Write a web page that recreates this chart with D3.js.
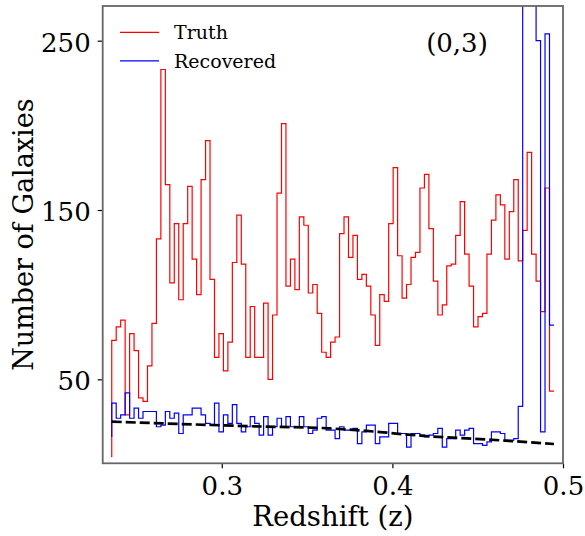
<!DOCTYPE html>
<html><head><meta charset="utf-8">
<script src="https://cdn.jsdelivr.net/npm/d3@7"></script>
<style>html,body{margin:0;padding:0;background:#fff;}svg{display:block;font-family:"DejaVu Serif",serif;}</style>
</head><body><svg id="c" width="585" height="536"></svg>
<script>
// Redshift of first and last step points (uniform spacing)
const zFirst = 0.2355, zLast = 0.4947;
// Truth counts (index 0 = starting point of the step line)
const truth = [4,73,81,85,29,77,67,39,37,58,83,133,233,165,107,142,97,142,164,121,100,
  168,191,109,63,77,55,72,119,147,118,63,93,63,63,95,50,88,160,201,105,
  121,103,146,141,101,106,89,66,63,72,75,136,146,122,135,109,112,105,88,70,
  100,96,142,175,123,98,106,122,125,163,171,139,108,88,94,117,118,135,155,124,
  105,81,87,89,124,144,159,153,121,149,168,120,138,184,124,108,90,163,43];
// Recovered counts
const recovered = [16,36,27,29,42,27,33,27,31,31,31,22,23,31,27,30,18,29,29,33,33,
  29,24,23,36,19,29,24,35,24,19,22,28,24,17,28,17,22,27,22,28,22,22,28,22,18,20,
  27,28,20,20,15,22,20,20,21,12,19,23,23,12,16,16,24,24,18,18,10,18,18,17,16,17,
  18,21,10,15,15,20,17,20,21,12,12,11,13,19,19,18,14,14,15,34,420,420,420,250,19,254,82];
// Dashed model curve (redshift, count)
const modelZ = [0.2355,0.317,0.3635,0.3946,0.407,0.466,0.4947];
const modelN = [25,22.3,21,18.7,17.5,13.8,11.8];
const xTicks = [0.3,0.4,0.5];
const yTicks = [50,150,250];
const legendLabels = ["Truth","Recovered"];
const colors = ["#ff0000","#0000ff"];

const svg = d3.select("#c");
const L=102.7, R=563, T=6, B=463.3;
const x = d3.scaleLinear().domain([0.2302,0.5]).range([L,R]);
const y = d3.scaleLinear().domain([0.4,270.5]).range([B,T]);
const n = truth.length;
const zs = d3.range(n).map(i => zFirst + i*(zLast-zFirst)/(n-1));

svg.append("defs").append("clipPath").attr("id","clip")
  .append("rect").attr("x",L).attr("y",T).attr("width",R-L).attr("height",B-T);
const g = svg.append("g").attr("clip-path","url(#clip)");

const stepLine = d3.line().x(d=>x(d[0])).y(d=>y(d[1])).curve(d3.curveStepBefore);
g.append("path").attr("d", stepLine(zs.map((z,i)=>[z,truth[i]])))
  .attr("fill","none").attr("stroke",colors[0]).attr("stroke-width",1.2);
g.append("path").attr("d", stepLine(zs.map((z,i)=>[z,recovered[i]])))
  .attr("fill","none").attr("stroke",colors[1]).attr("stroke-width",1.2);
const mLine = d3.line().x(d=>x(d[0])).y(d=>y(d[1])).curve(d3.curveMonotoneX);
g.append("path").attr("d", mLine(modelZ.map((z,i)=>[z,modelN[i]])))
  .attr("fill","none").attr("stroke","#000").attr("stroke-width",2.7)
  .attr("stroke-dasharray","10,4");

// axes
const xa = svg.append("g").attr("transform",`translate(0,${B})`)
  .call(d3.axisBottom(x).tickValues(xTicks).tickFormat(d3.format(".1f")).tickSize(5).tickPadding(8));
const ya = svg.append("g").attr("transform",`translate(${L},0)`)
  .call(d3.axisLeft(y).tickValues(yTicks).tickFormat(d3.format("d")).tickSize(5).tickPadding(7));
[xa,ya].forEach(a=>{
  a.select(".domain").remove();
  a.selectAll("text").attr("font-family","DejaVu Serif").attr("font-size",26).attr("fill","#000");
  a.selectAll("line").attr("stroke","#000").attr("stroke-width",1.2);
});
ya.selectAll("text").attr("dy","0.4em");
svg.append("rect").attr("x",L).attr("y",T).attr("width",R-L).attr("height",B-T)
  .attr("fill","none").attr("stroke","#666").attr("stroke-width",1.8);

svg.append("text").attr("x",(L+R)/2).attr("y",525.5).attr("text-anchor","middle")
  .attr("font-size",27.5).text("Redshift (z)");
svg.append("text").attr("transform",`translate(33,${(T+B)/2}) rotate(-90)`)
  .attr("text-anchor","middle").attr("font-size",27).text("Number of Galaxies");
svg.append("text").attr("x",457).attr("y",52).attr("text-anchor","middle")
  .attr("font-size",26).text("(0,3)");

legendLabels.forEach((t,i)=>{
  const yy = 32.3 + i*28.5;
  svg.append("line").attr("x1",120).attr("x2",159).attr("y1",yy).attr("y2",yy)
    .attr("stroke",colors[i]).attr("stroke-width",1.3);
  svg.append("text").attr("x",174).attr("y",yy+7).attr("font-size",19).text(t);
});
</script></body></html>
